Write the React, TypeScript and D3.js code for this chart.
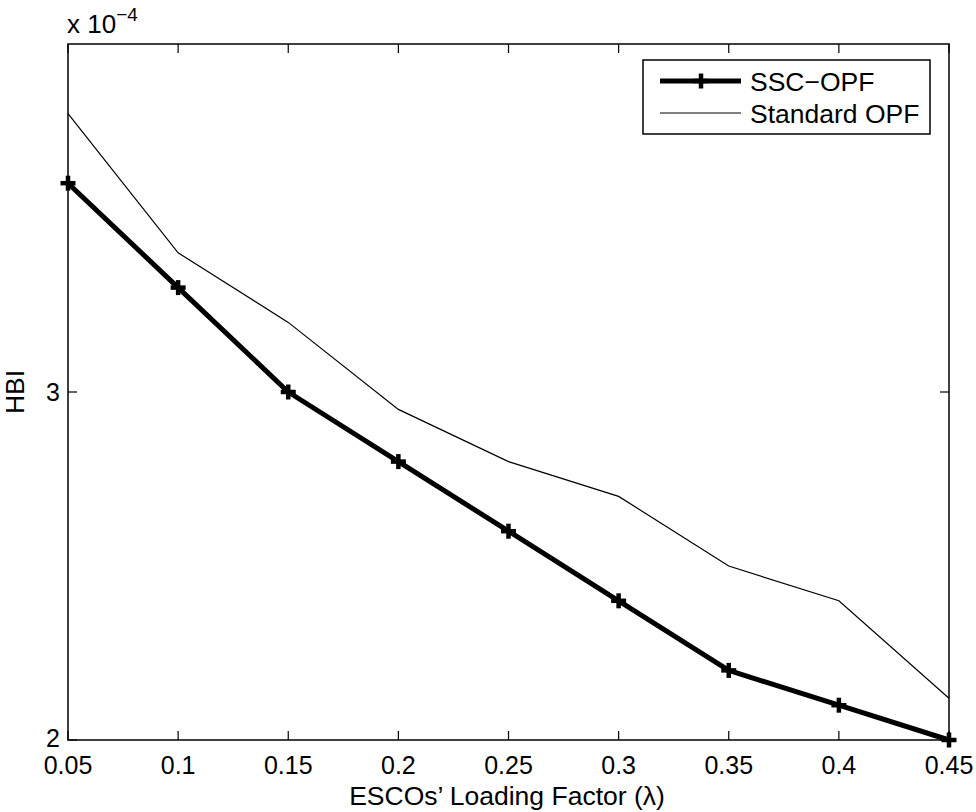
import React from "react";
import * as d3 from "d3";

const xValues = [0.05, 0.1, 0.15, 0.2, 0.25, 0.3, 0.35, 0.4, 0.45];
const sscOpf = [3.6, 3.3, 3.0, 2.8, 2.6, 2.4, 2.2, 2.1, 2.0];
const standardOpf = [3.8, 3.4, 3.2, 2.95, 2.8, 2.7, 2.5, 2.4, 2.12];
const xTicks = [0.05, 0.1, 0.15, 0.2, 0.25, 0.3, 0.35, 0.4, 0.45];
const xTickLabels = ["0.05", "0.1", "0.15", "0.2", "0.25", "0.3", "0.35", "0.4", "0.45"];
const yTicks = [2, 3];
const yTickLabels = ["2", "3"];
const seriesNames = ["SSC\u2212OPF", "Standard OPF"];

const W = 976;
const H = 812;
const L = 68, R = 949, T = 44, B = 740;
const FONT = "'Liberation Sans', Arial, Helvetica, sans-serif";

export default function App() {
  const x = d3.scaleLinear().domain([0.05, 0.45]).range([L, R]);
  const y = d3.scaleLinear().domain([2, 4]).range([B, T]);
  const line = d3
    .line<[number, number]>()
    .x((d) => x(d[0]))
    .y((d) => y(d[1]));
  const sscPts: [number, number][] = xValues.map((v, i) => [v, sscOpf[i]]);
  const stdPts: [number, number][] = xValues.map((v, i) => [v, standardOpf[i]]);
  const tick = 9;
  const m = 7.5; // plus marker half size

  return (
    <svg
      width={W}
      height={H}
      style={{ position: "absolute", left: 0, top: 0, background: "#fff" }}
      fontFamily={FONT}
    >
      <rect x={0} y={0} width={W} height={H} fill="#fff" />
      <defs>
        <clipPath id="plot">
          <rect x={L - 10} y={T} width={R - L + 20} height={B - T + 10} />
        </clipPath>
      </defs>
      {/* lines */}
      <g clipPath="url(#plot)">
        <path d={line(stdPts) || ""} fill="none" stroke="#000" strokeWidth={1.2} />
        <path
          d={line(sscPts) || ""}
          fill="none"
          stroke="#000"
          strokeWidth={5}
          strokeLinejoin="round"
        />
        {sscPts.map((p, i) => (
          <g key={i} stroke="#000" strokeWidth={4.5}>
            <line x1={x(p[0]) - m} x2={x(p[0]) + m} y1={y(p[1])} y2={y(p[1])} />
            <line x1={x(p[0])} x2={x(p[0])} y1={y(p[1]) - m} y2={y(p[1]) + m} />
          </g>
        ))}
      </g>
      {/* axes box */}
      <rect x={L} y={T} width={R - L} height={B - T} fill="none" stroke="#000" strokeWidth={1.5} />
      {xTicks.map((t, i) => (
        <g key={"xt" + i}>
          <line x1={x(t)} x2={x(t)} y1={B} y2={B - tick} stroke="#000" strokeWidth={1.2} />
          <line x1={x(t)} x2={x(t)} y1={T} y2={T + tick} stroke="#000" strokeWidth={1.2} />
          <text x={x(t)} y={774} textAnchor="middle" fontSize={25} fill="#000">
            {xTickLabels[i]}
          </text>
        </g>
      ))}
      {yTicks.map((t, i) => (
        <g key={"yt" + i}>
          <line x1={L} x2={L + tick} y1={y(t)} y2={y(t)} stroke="#000" strokeWidth={1.2} />
          <line x1={R} x2={R - tick} y1={y(t)} y2={y(t)} stroke="#000" strokeWidth={1.2} />
          <text x={60} y={y(t) + (t === 2 ? 7 : 9)} textAnchor="end" fontSize={25} fill="#000">
            {yTickLabels[i]}
          </text>
        </g>
      ))}
      {/* exponent */}
      <text x={67} y={33} fontSize={26} fill="#000">
        x 10
        <tspan dy={-12} fontSize={19}>
          {"\u22124"}
        </tspan>
      </text>
      {/* axis labels */}
      <text x={507} y={805} textAnchor="middle" fontSize={26.5} fill="#000">
        ESCOs’ Loading Factor (λ)
      </text>
      <text
        transform={`translate(24, ${y(3)}) rotate(-90)`}
        textAnchor="middle"
        fontSize={26.5}
        fill="#000"
      >
        HBI
      </text>
      {/* legend */}
      <rect x={643} y={60} width={287} height={74} fill="#fff" stroke="#000" strokeWidth={1.5} />
      <line x1={660} x2={741} y1={81} y2={81} stroke="#000" strokeWidth={5} />
      <line x1={701 - m} x2={701 + m} y1={81} y2={81} stroke="#000" strokeWidth={4.5} />
      <line x1={701} x2={701} y1={81 - m} y2={81 + m} stroke="#000" strokeWidth={4.5} />
      <text x={750} y={90.5} fontSize={26.5} fill="#000">
        {seriesNames[0]}
      </text>
      <line x1={660} x2={741} y1={113} y2={113} stroke="#000" strokeWidth={1.2} />
      <text x={750} y={122.5} fontSize={26.5} fill="#000">
        {seriesNames[1]}
      </text>
    </svg>
  );
}
